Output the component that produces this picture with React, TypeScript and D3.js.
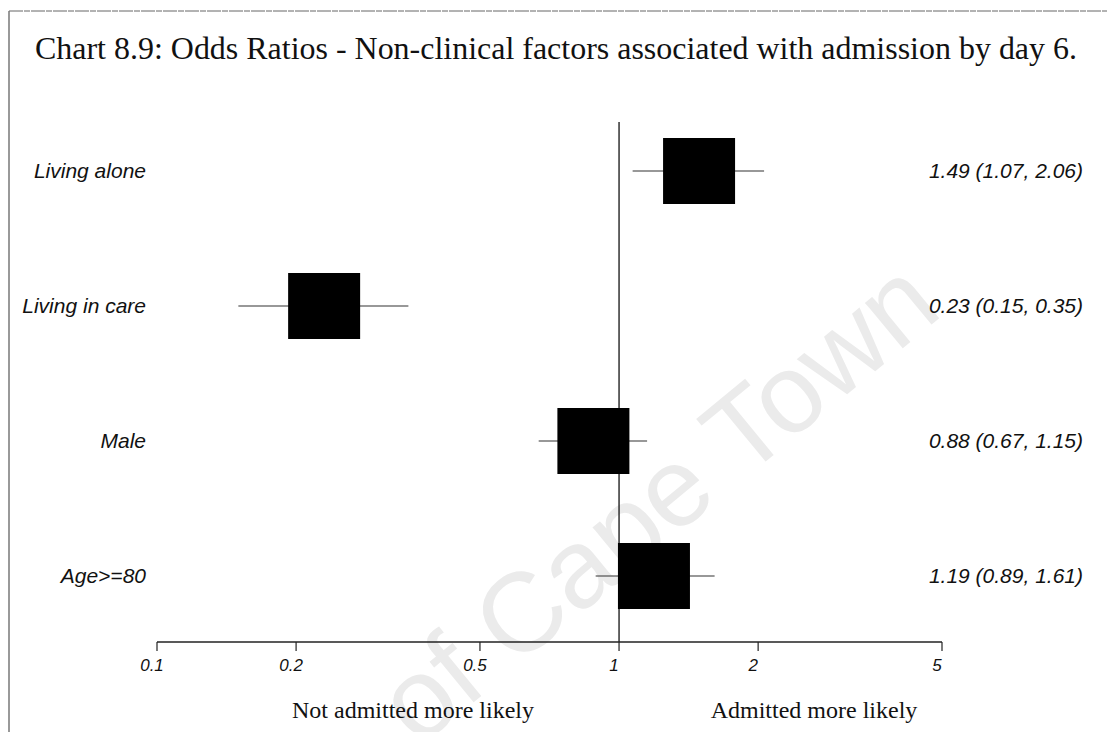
import React from "react";
import * as d3 from "d3";

const title = "Chart 8.9: Odds Ratios - Non-clinical factors associated with admission by day 6.";
const factors = ["Living alone", "Living in care", "Male", "Age>=80"];
const oddsRatio = [1.49, 0.23, 0.88, 1.19];
const ciLow = [1.07, 0.15, 0.67, 0.89];
const ciHigh = [2.06, 0.35, 1.15, 1.61];
const ciText = ["1.49 (1.07, 2.06)", "0.23 (0.15, 0.35)", "0.88 (0.67, 1.15)", "1.19 (0.89, 1.61)"];
const tickValues = [0.1, 0.2, 0.5, 1, 2, 5];
const tickLabels = ["0.1", "0.2", "0.5", "1", "2", "5"];
const leftCaption = "Not admitted more likely";
const rightCaption = "Admitted more likely";
const watermark = "of Cape Town";

const W = 1107;
const H = 732;

export default function App() {
  const x = d3.scaleLog().domain([0.1, 5]).range([157, 942]);
  const y = d3.scalePoint<string>().domain(factors).range([171, 576]);
  const axisY = 642;
  const boxW = 72;
  const boxH = 66;
  const sans = "'Liberation Sans', Arial, sans-serif";
  const serif = "'Liberation Serif', 'Times New Roman', serif";

  return (
    <svg width={W} height={H} style={{ position: "absolute", left: 0, top: 0, background: "#fff" }}>
      <rect x={0} y={0} width={W} height={H} fill="#fff" />
      {/* scan border */}
      <line x1={9} y1={11} x2={W} y2={11} stroke="#666" strokeWidth={1} strokeDasharray="14 1 6 1" />
      <line x1={9} y1={11} x2={9} y2={H} stroke="#777" strokeWidth={1.5} />

      {/* watermark */}
      <text
        transform="translate(418,748) rotate(-39.5)"
        textAnchor="start"
        fontFamily={sans}
        fontSize={112}
        fill="#ebebeb"
      >
        {watermark}
      </text>

      {/* title */}
      <text x={35} y={59} fontFamily={serif} fontSize={31} textLength={1042} lengthAdjust="spacingAndGlyphs" fill="#111">
        {title}
      </text>

      {/* reference line at 1 */}
      <line x1={x(1)} x2={x(1)} y1={122} y2={axisY} stroke="#111" strokeWidth={1.3} />

      {/* axis */}
      <line x1={x(0.1)} x2={x(5)} y1={axisY} y2={axisY} stroke="#222" strokeWidth={1.3} />
      {tickValues.map((t, i) => (
        <g key={"t" + i}>
          <line x1={x(t)} x2={x(t)} y1={axisY} y2={axisY + 9} stroke="#222" strokeWidth={1.2} />
          <text
            x={x(t) - 5}
            y={axisY + 29}
            textAnchor="middle"
            fontFamily={sans}
            fontStyle="italic"
            fontSize={17}
            fill="#111"
          >
            {tickLabels[i]}
          </text>
        </g>
      ))}

      {/* rows */}
      {factors.map((f, i) => {
        const cy = y(f) as number;
        return (
          <g key={f}>
            <line x1={x(ciLow[i])} x2={x(ciHigh[i])} y1={cy} y2={cy} stroke="#333" strokeWidth={1.2} />
            <rect x={x(oddsRatio[i]) - boxW / 2} y={cy - boxH / 2} width={boxW} height={boxH} fill="#000" />
            <text
              x={146}
              y={cy + 7}
              textAnchor="end"
              fontFamily={sans}
              fontStyle="italic"
              fontSize={21}
              fill="#111"
            >
              {f}
            </text>
            <text
              x={1083}
              y={cy + 7}
              textAnchor="end"
              fontFamily={sans}
              fontStyle="italic"
              fontSize={21}
              fill="#111"
            >
              {ciText[i]}
            </text>
          </g>
        );
      })}

      {/* direction captions */}
      <text x={413} y={718} textAnchor="middle" fontFamily={serif} fontSize={24} fill="#111">
        {leftCaption}
      </text>
      <text x={814} y={718} textAnchor="middle" fontFamily={serif} fontSize={24} fill="#111">
        {rightCaption}
      </text>
    </svg>
  );
}
